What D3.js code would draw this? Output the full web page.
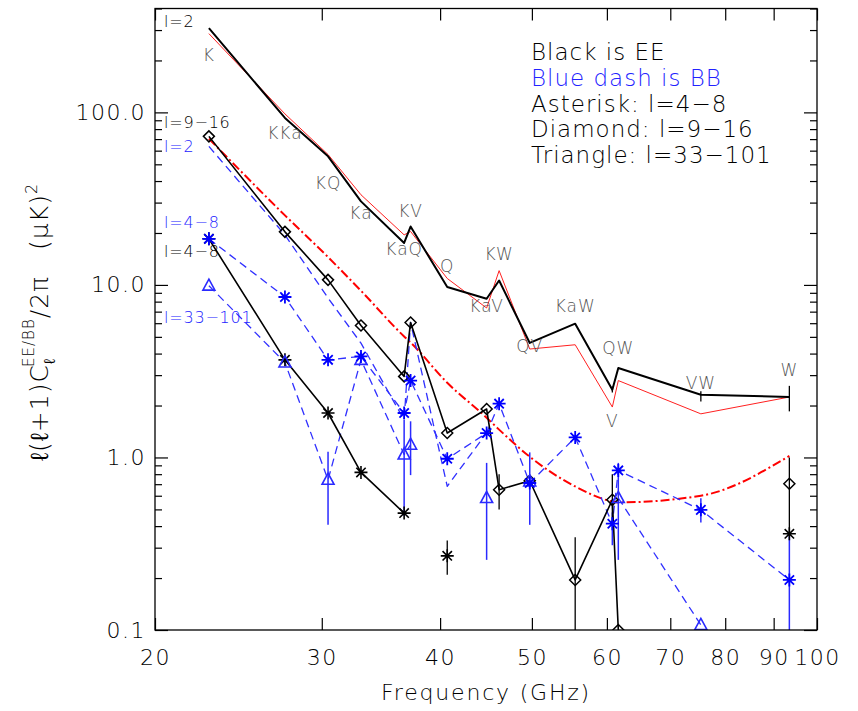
<!DOCTYPE html>
<html>
<head>
<meta charset="utf-8">
<script src="https://cdn.jsdelivr.net/npm/d3@7"></script>
<style>
body { margin: 0; background: #fff; }
svg text { font-family: "DejaVu Sans", sans-serif; font-weight: 200; }
</style>
</head>
<body>
<svg id="chart" width="858" height="711"></svg>
<script>

// WMAP band combinations and their effective frequency (GHz)
var bands = ['K','KKa','KQ','Ka','KaQ','KV','Q','KaV','KW','QV','KaW','V','QW','VW','W'];
var freqs = [22.8, 27.43, 30.46, 33.0, 36.65, 37.23, 40.7, 44.79, 46.17, 49.74, 55.55, 60.8, 61.69, 75.4, 93.5];

// l=2 EE (black) and its prediction (thin red)
var eeL2      = [308, 92.8, 55.6, 30.5, 17.5, 21.8, 9.72, 8.32, 10.6, 4.61, 5.96, 2.47, 3.30, 2.31, 2.24];
var eeL2Model = [286, 98, 57, 33.3, 19.5, 20.4, 10.9, 7.35, 12.1, 4.25, 4.5, 1.96, 2.79, 1.79, 2.24];
var eeL2Err   = [null,null,null,null,null,null,null,null,null,null,null,[2.38,2.58],null,[2.11,2.42],[1.85,2.6]];

// l=9-16 prediction (red dash-dot)
var l916Model = [70.4, 25.3, 14.5, 9.25, 5.03, 4.64, 2.71, 1.70, 1.45, 1.01, 0.679, 0.556, 0.549, 0.60, 1.02];

// EE, black solid
var ee916    = [72.6, 20.3, 10.7, 5.82, 2.95, 6.06, 1.385, 1.909, 0.65, 0.733, 0.195, 0.568, 0.1, null, 0.704];
var ee916Err = [null,null,null,null,null,null,null,null,[0.5,0.8],null,[0.05,0.345],[0.42,0.8],null,null,[0.35,1.0]];
var ee48     = [18.5, 3.68, 1.81, 0.819, 0.476, null, 0.269, null, null, null, null, null, null, null, 0.361];
var ee48Err  = [null,null,null,null,null,null,[0.209,0.33],null,null,null,null,null,null,null,null];

// BB, blue dashed
var bbL2     = [63.5, 19.5, 8.4, 4.6, 1.65, 6.06, 0.68, 1.39, null, null, null, null, null, null, null];
var bb48     = [18.5, 8.51, 3.68, 3.85, 1.81, 2.79, 0.983, 1.385, 2.05, 0.711, 1.306, 0.413, 0.841, 0.497, 0.195];
var bb48Err  = [null,null,null,null,null,null,null,null,null,null,null,[0.31,0.48],null,[0.42,0.58],[0.05,0.35]];
var bb33     = [9.9, 3.55, 0.742, 3.68, 1.04, 1.185, null, 0.582, null, 0.726, null, null, 0.582, 0.107, null];
var bb33Err  = [null,null,[0.407,1.08],null,[0.46,1.65],[0.79,1.62],null,[0.255,0.93],null,[0.407,1.07],null,null,[0.255,0.93],null,null];

var xTicks = [20, 30, 40, 50, 60, 70, 80, 90, 100];
var yMajor = [0.1, 1, 10, 100];

// label offsets (px) of the band names from the l=2 EE line
var bandDy = [27, 15, 27, 12, 6, -16, -21, 7, -27, 3, -18, 31, -20, -12, -27];

var BLUE = '#0000ff';
var svg = d3.select('#chart');
var x = d3.scaleLog().domain([20, 100]).range([155, 817]);
var y = d3.scaleLog().domain([0.1, 400]).range([630, 8.5]);

svg.append('defs').append('clipPath').attr('id', 'plotclip')
	.append('rect').attr('x', 155).attr('y', 8.5).attr('width', 662).attr('height', 621.5);
var plot = svg.append('g').attr('clip-path', 'url(#plotclip)');

function pts(vals){
	return vals.map(function(v, i){ return {f: freqs[i], v: v, i: i}; });
}
function lineGen(curve){
	return d3.line().defined(function(d){ return d.v != null; })
		.x(function(d){ return x(d.f); }).y(function(d){ return y(d.v); })
		.curve(curve || d3.curveLinear);
}
function drawLine(vals, color, width, dash, curve){
	plot.append('path').datum(pts(vals))
		.attr('d', lineGen(curve))
		.attr('fill', 'none').attr('stroke', color).attr('stroke-width', width)
		.attr('stroke-dasharray', dash || null).attr('stroke-linejoin', 'round');
}
function drawErr(errs, color, width){
	var d = errs.map(function(e, i){ return e ? {f: freqs[i], lo: e[0], hi: e[1]} : null; })
		.filter(function(e){ return e; });
	plot.selectAll(null).data(d).enter().append('line')
		.attr('x1', function(e){ return x(e.f); }).attr('x2', function(e){ return x(e.f); })
		.attr('y1', function(e){ return y(e.lo); }).attr('y2', function(e){ return y(e.hi); })
		.attr('stroke', color).attr('stroke-width', width);
}
var symbols = {
	asterisk: function(r){ var a = r * 0.72;
		return 'M0,'+(-r)+'L0,'+r+'M'+(-r)+',0L'+r+',0M'+(-a)+','+(-a)+'L'+a+','+a+'M'+(-a)+','+a+'L'+a+','+(-a); },
	diamond: function(r){ return 'M0,'+(-r)+'L'+r+',0L0,'+r+'L'+(-r)+',0Z'; },
	triangle: function(r){ return 'M0,'+(-r*1.1)+'L'+r+','+(r*0.75)+'L'+(-r)+','+(r*0.75)+'Z'; }
};
function drawMarks(vals, sym, r, color, width){
	plot.selectAll(null).data(pts(vals).filter(function(d){ return d.v != null; })).enter()
		.append('path')
		.attr('transform', function(d){ return 'translate(' + x(d.f) + ',' + y(d.v) + ')'; })
		.attr('d', symbols[sym](r))
		.attr('fill', 'none').attr('stroke', color).attr('stroke-width', width);
}

// model curves and the l=2 EE line
drawLine(eeL2Model, '#ff2020', 1, null);
drawLine(eeL2, '#000', 2, null);
drawErr(eeL2Err, '#000', 1.3);
drawLine(l916Model, '#ff0000', 2, '9,3,2,3', d3.curveMonotoneX);

// BB dashed lines
drawLine(bbL2, '#3030ff', 1.3, '8,5');
drawLine(bb48, '#3030ff', 1.3, '8,5');
drawLine(bb33, '#3030ff', 1.3, '8,5');

// EE solid lines
drawLine(ee916, '#000', 1.6, null);
drawLine(ee48, '#000', 1.6, null);

// error bars
drawErr(bb33Err, '#2a2aff', 1.5);
drawErr(bb48Err, '#2a2aff', 1.5);
drawErr(ee916Err, '#000', 1.3);
drawErr(ee48Err, '#000', 1.3);

// symbols
drawMarks(ee916, 'diamond', 5.5, '#000', 1.5);
drawMarks(ee48, 'asterisk', 6.5, '#000', 1.6);
drawMarks(bb33, 'triangle', 6, '#2a2aff', 1.6);
drawMarks(bb48, 'asterisk', 6.5, BLUE, 1.8);

// band names along the l=2 EE line
svg.append('g').selectAll('text').data(pts(eeL2)).enter().append('text')
	.attr('x', function(d){ return x(d.f); })
	.attr('y', function(d){ return y(d.v) + bandDy[d.i]; })
	.attr('text-anchor', 'middle').attr('dominant-baseline', 'central')
	.attr('fill', '#555').style('font-size', '17px').style('letter-spacing', '1px')
	.text(function(d){ return bands[d.i]; });

// series labels on the left
var seriesLabels = [
	{t: 'l=2', c: '#000', y: 27},
	{t: 'l=9\u221216', c: '#000', y: 128},
	{t: 'l=2', c: '#2222ff', y: 152},
	{t: 'l=4\u22128', c: '#2222ff', y: 228},
	{t: 'l=4\u22128', c: '#000', y: 257},
	{t: 'l=33\u2212101', c: '#2222ff', y: 323}
];
svg.append('g').selectAll('text').data(seriesLabels).enter().append('text')
	.attr('x', 164).attr('y', function(d){ return d.y; })
	.attr('fill', function(d){ return d.c; })
	.style('font-size', '16px').style('letter-spacing', '0.8px')
	.text(function(d){ return d.t; });

// legend text
var legend = [
	{t: 'Black is EE', c: '#000'},
	{t: 'Blue dash is BB', c: '#2222ff'},
	{t: 'Asterisk: l=4\u22128', c: '#000'},
	{t: 'Diamond: l=9\u221216', c: '#000'},
	{t: 'Triangle: l=33\u2212101', c: '#000'}
];
svg.append('g').selectAll('text').data(legend).enter().append('text')
	.attr('x', 531).attr('y', function(d, i){ return 60 + i * 25.8; })
	.attr('fill', function(d){ return d.c; })
	.style('font-size', '23px').style('letter-spacing', '1px')
	.text(function(d){ return d.t; });

// axes
var yMinor = [];
[0.1, 1, 10, 100].forEach(function(dec){
	for (var k = 2; k <= 9; k++){ if (dec * k <= 400) yMinor.push(dec * k); }
});
function styleAxis(g){
	g.select('.domain').remove();
	g.selectAll('line').attr('stroke', '#000').attr('stroke-width', 1.2);
	g.selectAll('text').attr('fill', '#000')
		.style('font-family', '"DejaVu Sans", sans-serif').style('font-weight', '200')
		.style('font-size', '22px').style('letter-spacing', '1.5px');
}
svg.append('g').attr('transform', 'translate(0,630)')
	.call(d3.axisBottom(x).tickValues(xTicks).tickFormat(d3.format('d')).tickSizeInner(-12).tickSizeOuter(0).tickPadding(19))
	.call(styleAxis);
svg.append('g').attr('transform', 'translate(0,8.5)')
	.call(d3.axisTop(x).tickValues(xTicks).tickFormat('').tickSizeInner(-12).tickSizeOuter(0))
	.call(styleAxis);
svg.append('g').attr('transform', 'translate(155,0)')
	.call(d3.axisLeft(y).tickValues(yMajor).tickFormat(function(v){ return v < 1 ? '0.1' : v.toFixed(1); })
		.tickSizeInner(-13).tickSizeOuter(0).tickPadding(9))
	.call(styleAxis);
svg.append('g').attr('transform', 'translate(155,0)')
	.call(d3.axisLeft(y).tickValues(yMinor).tickFormat('').tickSizeInner(-7).tickSizeOuter(0))
	.call(styleAxis);
svg.append('g').attr('transform', 'translate(817,0)')
	.call(d3.axisRight(y).tickValues(yMajor).tickFormat('').tickSizeInner(-13).tickSizeOuter(0))
	.call(styleAxis);
svg.append('g').attr('transform', 'translate(817,0)')
	.call(d3.axisRight(y).tickValues(yMinor).tickFormat('').tickSizeInner(-7).tickSizeOuter(0))
	.call(styleAxis);

svg.append('rect').attr('x', 155).attr('y', 8.5).attr('width', 662).attr('height', 621.5)
	.attr('fill', 'none').attr('stroke', '#000').attr('stroke-width', 1.3);

// axis titles
svg.append('text').attr('x', 486).attr('y', 700).attr('text-anchor', 'middle')
	.style('font-size', '22px').style('letter-spacing', '1.8px')
	.text('Frequency (GHz)');

var yl = svg.append('text').attr('transform', 'translate(48,322) rotate(-90)')
	.attr('text-anchor', 'middle').style('font-size', '25px').style('letter-spacing', '1px');
yl.append('tspan').text('\u2113(\u2113+1)C');
yl.append('tspan').attr('dy', 7).style('font-size', '16px').text('\u2113');
yl.append('tspan').attr('dx', -9).attr('dy', -21).style('font-size', '15px').text('EE/BB');
yl.append('tspan').attr('dy', 14).text('/2\u03c0');
yl.append('tspan').attr('dx', 26).text('(\u03bcK)');
yl.append('tspan').attr('dy', -11).style('font-size', '16px').text('2');

</script>
</body>
</html>
